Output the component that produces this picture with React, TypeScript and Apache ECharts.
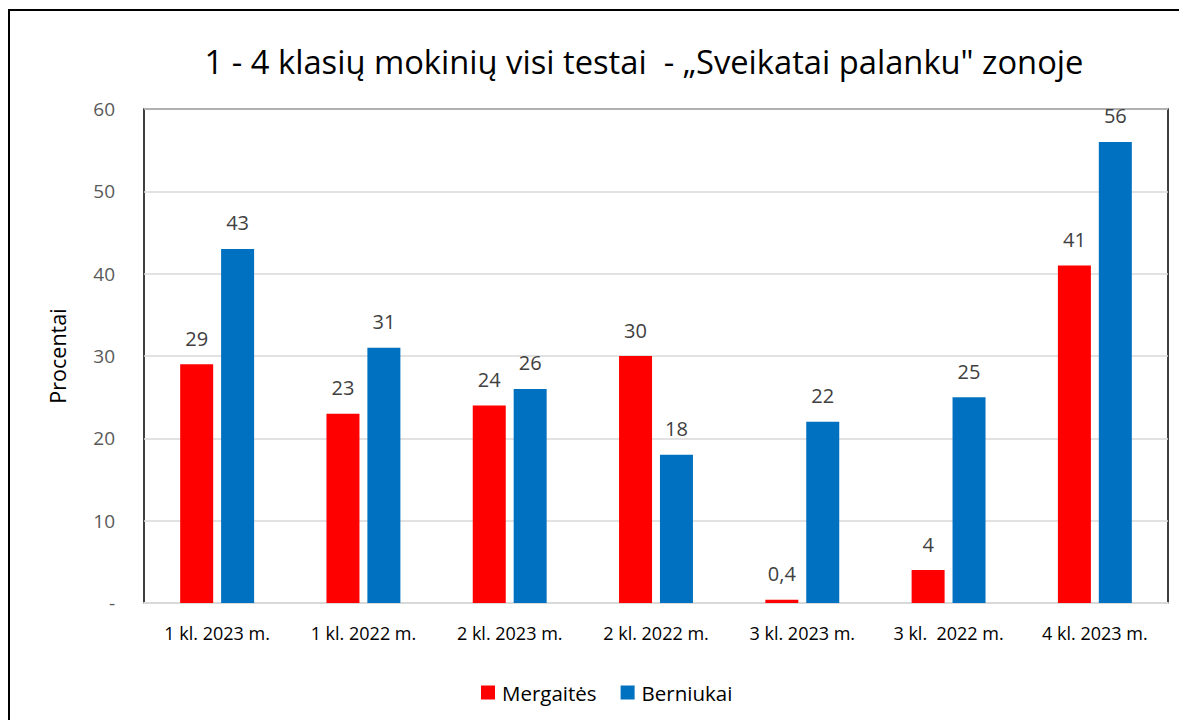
import React, { useEffect, useRef } from "react";
import * as echarts from "echarts";

const TITLE = "1 - 4 klasių mokinių visi testai  - „Sveikatai palanku\" zonoje";
const categories = [
  "1 kl. 2023 m.",
  "1 kl. 2022 m.",
  "2 kl. 2023 m.",
  "2 kl. 2022 m.",
  "3 kl. 2023 m.",
  "3 kl.  2022 m.",
  "4 kl. 2023 m.",
];
const mergaites = [29, 23, 24, 30, 0.4, 4, 41];
const berniukai = [43, 31, 26, 18, 22, 25, 56];
const seriesNames = ["Mergaitės", "Berniukai"];
const yTicks = { min: 0, max: 60, interval: 10 };
const yAxisName = "Procentai";

const FONT = "'Open Sans', 'Noto Sans', sans-serif";

export default function App() {
  const ref = useRef<HTMLDivElement>(null);
  useEffect(() => {
    if (!ref.current) return;
    const chart = echarts.init(ref.current, undefined, { renderer: "svg" });
    const label = {
      show: true,
      position: "top",
      distance: 16,
      color: "#404040",
      fontSize: 20,
      fontFamily: FONT,
      formatter: (p: any) => String(p.value).replace(".", ","),
    };
    chart.setOption({
      animation: false,
      backgroundColor: "#fff",
      textStyle: { fontFamily: FONT },
      title: {
        text: TITLE,
        left: 631,
        top: 32,
        textAlign: "center",
        textStyle: { fontSize: 32.7, fontWeight: "normal", color: "#000", fontFamily: FONT },
      },
      legend: {
        data: seriesNames,
        top: 669,
        left: 468,
        itemWidth: 14,
        itemHeight: 14,
        itemGap: 24,
        icon: "rect",
        textStyle: { fontSize: 20.5, color: "#000", fontFamily: FONT, padding: [0, 0, 0, 2] },
      },
      grid: {
        left: 136,
        right: 19,
        top: 101,
        bottom: 117,
        show: true,
        borderColor: "#000",
        borderWidth: 1.5,
        backgroundColor: "transparent",
      },
      xAxis: {
        type: "category",
        data: categories,
        axisTick: { show: false },
        axisLine: { lineStyle: { color: "#d9d9d9", width: 2 } },
        axisLabel: { color: "#000", fontSize: 18, margin: 21, fontFamily: FONT },
      },
      yAxis: {
        type: "value",
        min: yTicks.min,
        max: yTicks.max,
        interval: yTicks.interval,
        name: yAxisName,
        nameLocation: "middle",
        nameGap: 76,
        nameTextStyle: { color: "#000", fontSize: 21.5, fontFamily: FONT },
        axisLine: { show: false },
        axisTick: { show: false },
        splitLine: { lineStyle: { color: "#d9d9d9", width: 1.5 } },
        axisLabel: {
          color: "#595959",
          fontSize: 19,
          margin: 29,
          fontFamily: FONT,
          formatter: (v: number) => (v === 0 ? "-" : String(v)),
        },
      },
      series: [
        {
          name: seriesNames[0],
          type: "bar",
          data: mergaites,
          barWidth: 33,
          barGap: "24%",
          itemStyle: { color: "#ff0000" },
          label,
        },
        {
          name: seriesNames[1],
          type: "bar",
          data: berniukai,
          barWidth: 33,
          itemStyle: { color: "#0070c0" },
          label,
        },
      ],
      graphic: [
        {
          type: "rect",
          shape: { x: 1, y: 2, width: 1300, height: 900 },
          style: { fill: "none", stroke: "#000", lineWidth: 2 },
          silent: true,
        },
      ],
    });
    return () => chart.dispose();
  }, []);
  return <div ref={ref} style={{ width: 1179, height: 712 }} />;
}
